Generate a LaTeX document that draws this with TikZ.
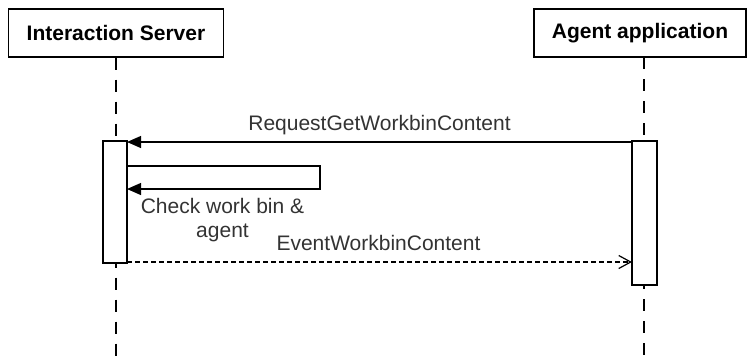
\documentclass[tikz,border=0pt]{standalone}
\usepackage{fontspec}
\setmainfont{Liberation Sans}
\usetikzlibrary{arrows.meta}
\begin{document}
\begin{tikzpicture}[x=1pt,y=-1pt,
  actor/.style={draw, line width=1.3pt, minimum width=215pt, minimum height=48pt, inner sep=0pt, font=\fontsize{21}{24}\selectfont\bfseries},
  act/.style={draw, line width=1.3pt, fill=white, minimum width=24pt, inner sep=0pt},
  life/.style={line width=1.4pt, dash pattern=on 12pt off 10pt},
  msg/.style={line width=1.2pt},
  filledtip/.style={-{Triangle[length=14pt,width=12pt]}},
  opentip/.style={-{Straight Barb[length=12pt,width=13pt,line width=1.2pt]}},
  lbl/.style={font=\fontsize{21}{24}\selectfont, inner sep=0pt, text=black!80}
]
\useasboundingbox (0,0) rectangle (747,360);
% actors
\node[actor] (is) at (116,33) {Interaction Server};
\node[actor, minimum width=212pt] (aa) at (640,33) {Agent application};
% lifeline ends
\coordinate (isb) at (116,362);
\coordinate (aat) at (644,57);
\coordinate (aab) at (644,362);
\draw[life] (is.south) -- (isb);
\draw[life] (aat) -- (aab);
% activations
\node[act, minimum height=122pt] (actL) at (115,202) {};
\node[act, minimum height=144pt, minimum width=25pt] (actR) at (644.5,213) {};
% message endpoints
\coordinate (m1s) at (632,142);
\coordinate (m1e) at (127,142);
\coordinate (s1) at (127,166);
\coordinate (s2) at (320,166);
\coordinate (s3) at (320,189);
\coordinate (s4) at (127,189);
\coordinate (r1) at (127,262);
\coordinate (r2) at (632,262);
% messages
\draw[msg, filledtip] (m1s) -- (m1e);
\draw[msg, filledtip] (s1) -- (s2) -- (s3) -- (s4);
\draw[msg, dash pattern=on 5pt off 3pt, opentip] (r1) -- (r2);
% labels
\node[lbl, anchor=base] (l1) at (379.5,130) {RequestGetWorkbinContent};
\node[lbl, anchor=base, align=center] (l2) at (222.5,237) {Check work bin \&\\agent};
\node[lbl, anchor=base] (l3) at (378.5,250) {EventWorkbinContent};
\end{tikzpicture}
\end{document}
